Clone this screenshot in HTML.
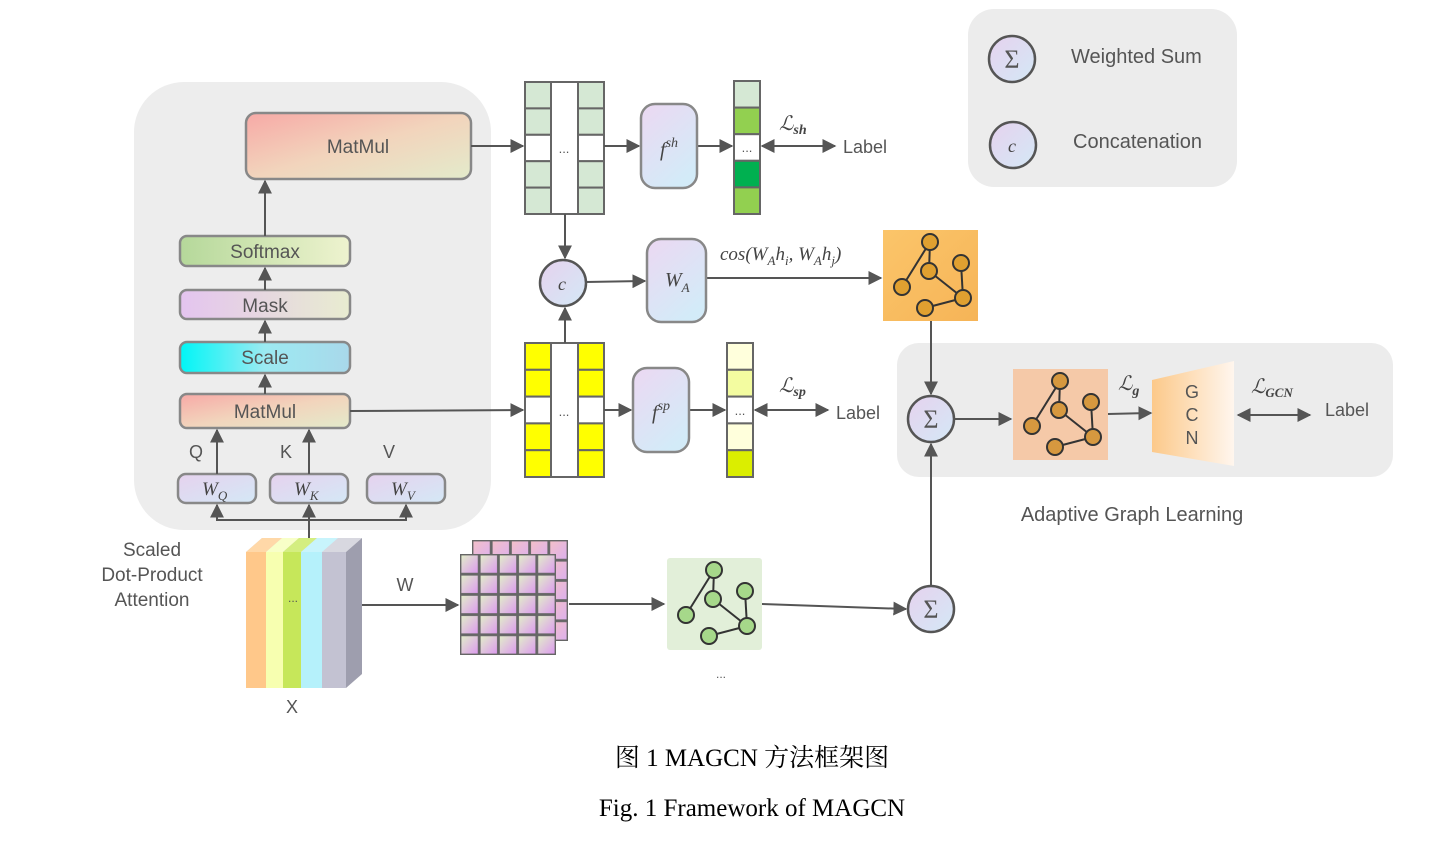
<!DOCTYPE html>
<html><head><meta charset="utf-8"><style>
html,body{margin:0;padding:0;background:#fff;}
svg{display:block;}
.t{font-family:"Liberation Sans",sans-serif;fill:#555;}
.m{font-family:"Liberation Serif",serif;font-style:italic;fill:#444;}
</style></head><body>
<svg width="1450" height="843" viewBox="0 0 1450 843" xmlns="http://www.w3.org/2000/svg">
<defs>
<marker id="a" viewBox="0 0 10 10" refX="9" refY="5" markerWidth="7" markerHeight="7" orient="auto-start-reverse"><path d="M0,0 L10,5 L0,10 z" fill="#555"/></marker>
<linearGradient id="gMat" x1="0" y1="0" x2="1" y2="1"><stop offset="0" stop-color="#f7a9a6"/><stop offset="0.5" stop-color="#f2d4bc"/><stop offset="1" stop-color="#e3ebcb"/></linearGradient>
<linearGradient id="gSoft" x1="0" x2="1"><stop offset="0" stop-color="#b5d89a"/><stop offset="1" stop-color="#eef3cf"/></linearGradient>
<linearGradient id="gMask" x1="0" x2="1"><stop offset="0" stop-color="#e4c4ef"/><stop offset="1" stop-color="#e8ecd0"/></linearGradient>
<linearGradient id="gScale" x1="0" x2="1"><stop offset="0" stop-color="#00f6f6"/><stop offset="0.5" stop-color="#9ceaf2"/><stop offset="1" stop-color="#a9d8ea"/></linearGradient>
<linearGradient id="gW" x1="0" y1="0" x2="1" y2="1"><stop offset="0" stop-color="#e6d2ee"/><stop offset="1" stop-color="#d4e8f6"/></linearGradient>
<linearGradient id="gF" x1="0" y1="0" x2="0.6" y2="1"><stop offset="0" stop-color="#ecd8f2"/><stop offset="1" stop-color="#d3ebf8"/></linearGradient>
<linearGradient id="gOr" x1="0" y1="0" x2="1" y2="1"><stop offset="0" stop-color="#fbc56a"/><stop offset="1" stop-color="#f6b457"/></linearGradient>
<linearGradient id="gGcn" x1="0" x2="1"><stop offset="0" stop-color="#fcc98a"/><stop offset="1" stop-color="#fff6ee"/></linearGradient>
<linearGradient id="gCell" x1="0" y1="0" x2="1" y2="1"><stop offset="0" stop-color="#e2f0c8"/><stop offset="1" stop-color="#dc98f0"/></linearGradient>
<linearGradient id="gCell2" x1="0" y1="0" x2="1" y2="1"><stop offset="0" stop-color="#f4c0c8"/><stop offset="1" stop-color="#dcb0ee"/></linearGradient>
<pattern id="pc" x="460" y="554" width="19.2" height="20.2" patternUnits="userSpaceOnUse"><rect x="0.7" y="0.7" width="17.8" height="18.8" fill="url(#gCell)" stroke="#666" stroke-width="1.4"/></pattern>
<pattern id="pc2" x="472" y="540" width="19.2" height="20.2" patternUnits="userSpaceOnUse"><rect x="0.7" y="0.7" width="17.8" height="18.8" fill="url(#gCell2)" stroke="#666" stroke-width="1.4"/></pattern>
</defs>

<rect x="134" y="82" width="357" height="448" rx="50" fill="#ededed"/>
<rect x="246" y="113" width="225" height="66" rx="10" fill="url(#gMat)" stroke="#888" stroke-width="2.5"/>
<text class="t" x="358" y="153" font-size="19" text-anchor="middle">MatMul</text>
<rect x="180" y="236" width="170" height="30" rx="7" fill="url(#gSoft)" stroke="#888" stroke-width="2.5"/>
<text class="t" x="265" y="258" font-size="19" text-anchor="middle">Softmax</text>
<rect x="180" y="290" width="170" height="29" rx="7" fill="url(#gMask)" stroke="#888" stroke-width="2.5"/>
<text class="t" x="265" y="312" font-size="19" text-anchor="middle">Mask</text>
<rect x="180" y="342" width="170" height="31" rx="7" fill="url(#gScale)" stroke="#888" stroke-width="2.5"/>
<text class="t" x="265" y="364" font-size="19" text-anchor="middle">Scale</text>
<rect x="180" y="394" width="170" height="34" rx="7" fill="url(#gMat)" stroke="#888" stroke-width="2.5"/>
<text class="t" x="265" y="418" font-size="19" text-anchor="middle">MatMul</text>
<rect x="178" y="474" width="78" height="29" rx="8" fill="url(#gW)" stroke="#888" stroke-width="2.5"/>
<rect x="270" y="474" width="78" height="29" rx="8" fill="url(#gW)" stroke="#888" stroke-width="2.5"/>
<rect x="367" y="474" width="78" height="29" rx="8" fill="url(#gW)" stroke="#888" stroke-width="2.5"/>
<text class="m" x="202" y="495" font-size="19">W<tspan font-size="13" dy="5">Q</tspan></text>
<text class="m" x="294" y="495" font-size="19">W<tspan font-size="13" dy="5">K</tspan></text>
<text class="m" x="391" y="495" font-size="19">W<tspan font-size="13" dy="5">V</tspan></text>
<text class="t" x="196" y="458" font-size="18" text-anchor="middle">Q</text>
<text class="t" x="286" y="458" font-size="18" text-anchor="middle">K</text>
<text class="t" x="389" y="458" font-size="18" text-anchor="middle">V</text>
<g stroke="#555" stroke-width="2" fill="none">
<line x1="265" y1="236" x2="265" y2="181" marker-end="url(#a)"/>
<line x1="265" y1="290" x2="265" y2="268" marker-end="url(#a)"/>
<line x1="265" y1="342" x2="265" y2="321" marker-end="url(#a)"/>
<line x1="265" y1="394" x2="265" y2="375" marker-end="url(#a)"/>
<line x1="217" y1="474" x2="217" y2="430" marker-end="url(#a)"/>
<line x1="309" y1="474" x2="309" y2="430" marker-end="url(#a)"/>
<polyline points="217,505 217,520 406,520 406,505"/>
<line x1="217" y1="520" x2="217" y2="505" marker-end="url(#a)"/>
<line x1="406" y1="520" x2="406" y2="505" marker-end="url(#a)"/>
<line x1="309" y1="540" x2="309" y2="505" marker-end="url(#a)"/>
<line x1="471" y1="146" x2="523" y2="146" marker-end="url(#a)"/>
<line x1="350" y1="411" x2="523" y2="410" marker-end="url(#a)"/>
</g>

<g stroke="#666" stroke-width="2">
<rect x="525" y="82" width="26" height="26.4" fill="#d5e8d4"/><rect x="525" y="108.4" width="26" height="26.4" fill="#d5e8d4"/><rect x="525" y="134.8" width="26" height="26.4" fill="#fff"/><rect x="525" y="161.2" width="26" height="26.4" fill="#d5e8d4"/><rect x="525" y="187.6" width="26" height="26.4" fill="#d5e8d4"/>
<rect x="578" y="82" width="26" height="26.4" fill="#d5e8d4"/><rect x="578" y="108.4" width="26" height="26.4" fill="#d5e8d4"/><rect x="578" y="134.8" width="26" height="26.4" fill="#fff"/><rect x="578" y="161.2" width="26" height="26.4" fill="#d5e8d4"/><rect x="578" y="187.6" width="26" height="26.4" fill="#d5e8d4"/>
<rect x="551" y="82" width="27" height="132" fill="#fff"/>
</g>
<text class="t" x="564" y="153" font-size="13" text-anchor="middle">...</text>
<g stroke="#666" stroke-width="2">
<rect x="525" y="343" width="26" height="26.8" fill="#ffff00"/><rect x="525" y="369.8" width="26" height="26.8" fill="#ffff00"/><rect x="525" y="396.6" width="26" height="26.8" fill="#fff"/><rect x="525" y="423.4" width="26" height="26.8" fill="#ffff00"/><rect x="525" y="450.2" width="26" height="26.8" fill="#ffff00"/>
<rect x="578" y="343" width="26" height="26.8" fill="#ffff00"/><rect x="578" y="369.8" width="26" height="26.8" fill="#ffff00"/><rect x="578" y="396.6" width="26" height="26.8" fill="#fff"/><rect x="578" y="423.4" width="26" height="26.8" fill="#ffff00"/><rect x="578" y="450.2" width="26" height="26.8" fill="#ffff00"/>
<rect x="551" y="343" width="27" height="134" fill="#fff"/>
</g>
<text class="t" x="564" y="416" font-size="13" text-anchor="middle">...</text>

<circle cx="563" cy="283" r="23" fill="url(#gW)" stroke="#555" stroke-width="2.5"/>
<text class="m" x="562" y="290" font-size="18" text-anchor="middle">c</text>
<g stroke="#555" stroke-width="2" fill="none">
<line x1="565" y1="214" x2="565" y2="258" marker-end="url(#a)"/>
<line x1="565" y1="343" x2="565" y2="308" marker-end="url(#a)"/>
<line x1="586" y1="282" x2="645" y2="281" marker-end="url(#a)"/>
<line x1="706" y1="278" x2="881" y2="278" marker-end="url(#a)"/>
<line x1="604" y1="146" x2="639" y2="146" marker-end="url(#a)"/>
<line x1="697" y1="146" x2="732" y2="146" marker-end="url(#a)"/>
<line x1="762" y1="146" x2="835" y2="146" marker-start="url(#a)" marker-end="url(#a)"/>
<line x1="604" y1="410" x2="631" y2="410" marker-end="url(#a)"/>
<line x1="689" y1="410" x2="725" y2="410" marker-end="url(#a)"/>
<line x1="755" y1="410" x2="828" y2="410" marker-start="url(#a)" marker-end="url(#a)"/>
</g>

<rect x="641" y="104" width="56" height="84" rx="14" fill="url(#gF)" stroke="#888" stroke-width="2.5"/>
<text class="m" x="660" y="156" font-size="20">f<tspan font-size="14" dy="-9">sh</tspan></text>
<rect x="647" y="239" width="59" height="83" rx="14" fill="url(#gF)" stroke="#888" stroke-width="2.5"/>
<text class="m" x="665" y="286" font-size="20">W<tspan font-size="13" dy="6">A</tspan></text>
<rect x="633" y="368" width="56" height="84" rx="14" fill="url(#gF)" stroke="#888" stroke-width="2.5"/>
<text class="m" x="652" y="419" font-size="20">f<tspan font-size="14" dy="-9">sp</tspan></text>

<g stroke="#666" stroke-width="2">
<rect x="734" y="81" width="26" height="26.6" fill="#d5e8d4"/><rect x="734" y="107.6" width="26" height="26.6" fill="#92d050"/><rect x="734" y="134.2" width="26" height="26.6" fill="#fff"/><rect x="734" y="160.8" width="26" height="26.6" fill="#00b050"/><rect x="734" y="187.4" width="26" height="26.6" fill="#92d050"/>
<rect x="727" y="343" width="26" height="26.8" fill="#ffffdc"/><rect x="727" y="369.8" width="26" height="26.8" fill="#f3fca0"/><rect x="727" y="396.6" width="26" height="26.8" fill="#fff"/><rect x="727" y="423.4" width="26" height="26.8" fill="#ffffdc"/><rect x="727" y="450.2" width="26" height="26.8" fill="#dbee00"/>
</g>
<text class="t" x="747" y="152" font-size="13" text-anchor="middle">...</text>
<text class="t" x="740" y="415" font-size="13" text-anchor="middle">...</text>
<text class="m" x="779" y="130" font-size="20">ℒ<tspan font-size="14" dy="4" font-weight="bold">sh</tspan></text>
<text class="t" x="843" y="153" font-size="18">Label</text>
<text class="m" x="779" y="392" font-size="20">ℒ<tspan font-size="14" dy="4" font-weight="bold">sp</tspan></text>
<text class="t" x="836" y="419" font-size="18">Label</text>
<text class="m" x="720" y="260" font-size="19">cos(W<tspan font-size="13" dy="5">A</tspan><tspan dy="-5">h</tspan><tspan font-size="13" dy="5">i</tspan><tspan dy="-5">, W</tspan><tspan font-size="13" dy="5">A</tspan><tspan dy="-5">h</tspan><tspan font-size="13" dy="5">j</tspan><tspan dy="-5">)</tspan></text>

<rect x="883" y="230" width="95" height="91" fill="url(#gOr)"/>
<g transform="translate(883,230)" stroke="#333" stroke-width="2">
<line x1="47" y1="12" x2="46" y2="41"/><line x1="47" y1="12" x2="19" y2="57"/><line x1="46" y1="41" x2="80" y2="68"/><line x1="78" y1="33" x2="80" y2="68"/><line x1="80" y1="68" x2="42" y2="78"/>
<g fill="#e0a030"><circle cx="47" cy="12" r="8"/><circle cx="46" cy="41" r="8"/><circle cx="78" cy="33" r="8"/><circle cx="19" cy="57" r="8"/><circle cx="80" cy="68" r="8"/><circle cx="42" cy="78" r="8"/></g>
</g>

<rect x="897" y="343" width="496" height="134" rx="22" fill="#ececec"/>
<rect x="1013" y="369" width="95" height="91" fill="#f5c9a8"/>
<g transform="translate(1013,369)" stroke="#333" stroke-width="2">
<line x1="47" y1="12" x2="46" y2="41"/><line x1="47" y1="12" x2="19" y2="57"/><line x1="46" y1="41" x2="80" y2="68"/><line x1="78" y1="33" x2="80" y2="68"/><line x1="80" y1="68" x2="42" y2="78"/>
<g fill="#d6983f"><circle cx="47" cy="12" r="8"/><circle cx="46" cy="41" r="8"/><circle cx="78" cy="33" r="8"/><circle cx="19" cy="57" r="8"/><circle cx="80" cy="68" r="8"/><circle cx="42" cy="78" r="8"/></g>
</g>
<polygon points="1152,380 1234,361 1234,466 1152,452" fill="url(#gGcn)"/>
<text class="t" x="1192" y="398" font-size="18" text-anchor="middle">G</text>
<text class="t" x="1192" y="421" font-size="18" text-anchor="middle">C</text>
<text class="t" x="1192" y="444" font-size="18" text-anchor="middle">N</text>
<text class="m" x="1118" y="390" font-size="20">ℒ<tspan font-size="14" dy="5" font-weight="bold">g</tspan></text>
<text class="m" x="1251" y="393" font-size="20">ℒ<tspan font-size="13" dy="4" font-weight="bold">GCN</tspan></text>
<text class="t" x="1325" y="416" font-size="18">Label</text>
<circle cx="931" cy="419" r="23" fill="url(#gW)" stroke="#555" stroke-width="2.5"/>
<text x="931" y="428" font-size="26" text-anchor="middle" font-family="Liberation Serif,serif" fill="#555">Σ</text>
<circle cx="931" cy="609" r="23" fill="url(#gW)" stroke="#555" stroke-width="2.5"/>
<text x="931" y="618" font-size="26" text-anchor="middle" font-family="Liberation Serif,serif" fill="#555">Σ</text>
<g stroke="#555" stroke-width="2" fill="none">
<line x1="931" y1="321" x2="931" y2="394" marker-end="url(#a)"/>
<line x1="931" y1="586" x2="931" y2="444" marker-end="url(#a)"/>
<line x1="954" y1="419" x2="1011" y2="419" marker-end="url(#a)"/>
<line x1="1108" y1="414" x2="1151" y2="413" marker-end="url(#a)"/>
<line x1="1238" y1="415" x2="1310" y2="415" marker-start="url(#a)" marker-end="url(#a)"/>
<line x1="362" y1="605" x2="458" y2="605" marker-end="url(#a)"/>
<line x1="569" y1="604" x2="664" y2="604" marker-end="url(#a)"/>
<line x1="762" y1="604" x2="906" y2="609" marker-end="url(#a)"/>
</g>
<text class="t" x="1132" y="521" font-size="20" text-anchor="middle">Adaptive Graph Learning</text>

<rect x="968" y="9" width="269" height="178" rx="26" fill="#ececec"/>
<circle cx="1012" cy="59" r="23" fill="url(#gW)" stroke="#555" stroke-width="2.5"/>
<text x="1012" y="68" font-size="26" text-anchor="middle" font-family="Liberation Serif,serif" fill="#555">Σ</text>
<circle cx="1013" cy="145" r="23" fill="url(#gW)" stroke="#555" stroke-width="2.5"/>
<text class="m" x="1012" y="152" font-size="18" text-anchor="middle">c</text>
<text class="t" x="1071" y="63" font-size="20">Weighted Sum</text>
<text class="t" x="1073" y="148" font-size="20">Concatenation</text>

<polygon points="246,552 262,538 362,538 346,552" fill="#d8d8e0"/>
<polygon points="246,552 262,538 282,538 266,552" fill="#ffd8a8"/>
<polygon points="266,552 282,538 299,538 283,552" fill="#f8ffc8"/>
<polygon points="283,552 299,538 317,538 301,552" fill="#d4ee80"/>
<polygon points="301,552 317,538 338,538 322,552" fill="#c8f4fc"/>
<polygon points="346,552 362,538 362,674 346,688" fill="#9e9eae"/>
<rect x="246" y="552" width="20" height="136" fill="#ffc88a"/>
<rect x="266" y="552" width="17" height="136" fill="#f7ffb0"/>
<rect x="283" y="552" width="18" height="136" fill="#c6e75a"/>
<rect x="301" y="552" width="21" height="136" fill="#b5f1fb"/>
<rect x="322" y="552" width="24" height="136" fill="#c3c2d2"/>
<text class="t" x="293" y="602" font-size="12" text-anchor="middle">...</text>
<text class="t" x="292" y="713" font-size="18" text-anchor="middle">X</text>
<text class="t" x="152" y="556" font-size="19" text-anchor="middle">Scaled</text>
<text class="t" x="152" y="581" font-size="19" text-anchor="middle">Dot-Product</text>
<text class="t" x="152" y="606" font-size="19" text-anchor="middle">Attention</text>
<text class="t" x="405" y="591" font-size="18" text-anchor="middle">W</text>

<rect x="472" y="540" width="96" height="101" fill="url(#pc2)"/>
<rect x="460" y="554" width="96" height="101" fill="url(#pc)"/>

<rect x="667" y="558" width="95" height="92" rx="3" fill="#e2efd9"/>
<g transform="translate(667,558)" stroke="#333" stroke-width="2">
<line x1="47" y1="12" x2="46" y2="41"/><line x1="47" y1="12" x2="19" y2="57"/><line x1="46" y1="41" x2="80" y2="68"/><line x1="78" y1="33" x2="80" y2="68"/><line x1="80" y1="68" x2="42" y2="78"/>
<g fill="#a6d88a"><circle cx="47" cy="12" r="8"/><circle cx="46" cy="41" r="8"/><circle cx="78" cy="33" r="8"/><circle cx="19" cy="57" r="8"/><circle cx="80" cy="68" r="8"/><circle cx="42" cy="78" r="8"/></g>
</g>
<text class="t" x="721" y="678" font-size="12" text-anchor="middle">...</text>

<text x="752" y="766" font-size="25" text-anchor="middle" font-family="Liberation Serif, 'Noto Serif CJK SC', serif" fill="#000">图 1 MAGCN 方法框架图</text>
<text x="752" y="816" font-size="25" text-anchor="middle" font-family="Liberation Serif, serif" fill="#000">Fig. 1 Framework of MAGCN</text>
</svg>
</body></html>
